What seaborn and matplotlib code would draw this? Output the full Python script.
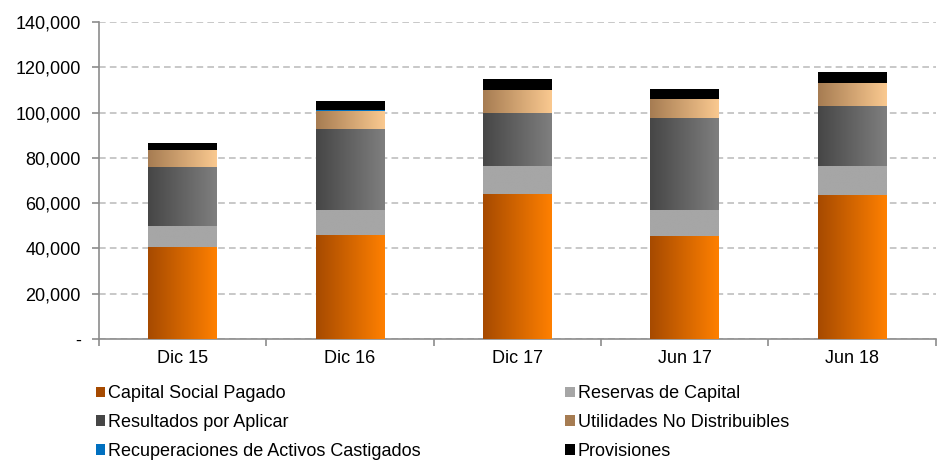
import numpy as np
import pandas as pd
import matplotlib
matplotlib.use("Agg")
import matplotlib.pyplot as plt
import seaborn as sns
from matplotlib.colors import LinearSegmentedColormap
from matplotlib.patches import Patch
from matplotlib.ticker import FuncFormatter

# data (approximate)
periods = ["Dic 15", "Dic 16", "Dic 17", "Jun 17", "Jun 18"]
capital_social = [40600, 45900, 64000, 45600, 63600]
reservas = [9300, 11100, 12400, 11400, 12800]
resultados = [26200, 35800, 23400, 40600, 26500]
utilidades = [7200, 7800, 10200, 8400, 10200]
recuperaciones = [0, 500, 0, 0, 0]
provisiones = [3300, 4000, 4800, 4400, 4800]

series_names = ["Capital Social Pagado", "Reservas de Capital", "Resultados por Aplicar",
                "Utilidades No Distribuibles", "Recuperaciones de Activos Castigados", "Provisiones"]
series_vals = [capital_social, reservas, resultados, utilidades, recuperaciones, provisiones]
# (left colour, right colour) of the horizontal gradient in each segment
series_cols = [("#A64A00", "#FF8000"), ("#A6A6A6", "#A6A6A6"), ("#464646", "#7F7F7F"),
               ("#A67C52", "#FAC990"), ("#0070C0", "#0070C0"), ("#000000", "#000000")]

df = pd.DataFrame(dict(zip(series_names, series_vals)), index=periods)
cum = df.cumsum(axis=1)

plt.rcParams["font.family"] = ["Liberation Sans", "DejaVu Sans"]
fig = plt.figure(figsize=(9.38, 4.61), dpi=100)
ax = fig.add_axes([0.1055, 0.265, 0.892, 0.687])

grad = np.linspace(0, 1, 256).reshape(1, -1)
# draw cumulative totals from the top series down, so lower series cover upper ones
for i in range(len(series_names) - 1, -1, -1):
    name = series_names[i]
    c0, c1 = series_cols[i]
    z = 3 + (len(series_names) - i) * 2
    n_before = len(ax.patches)
    sns.barplot(x=periods, y=cum[name].values, order=periods, color=c1, saturation=1,
                width=0.41, errorbar=None, ax=ax, zorder=z, linewidth=0)
    cmap = LinearSegmentedColormap.from_list(name, [c0, c1])
    for p in ax.patches[n_before:]:
        x0, y0 = p.get_x(), p.get_y()
        w, h = p.get_width(), p.get_height()
        if h <= 0:
            continue
        im = ax.imshow(grad, extent=[x0, x0 + w, y0, y0 + h], aspect="auto",
                       cmap=cmap, zorder=z + 0.5, interpolation="bilinear")
        im.set_clip_path(p)

ax.set_xlim(-0.5, len(periods) - 0.5)
ax.set_ylim(0, 140000)
ax.set_yticks(np.arange(0, 140001, 20000))
ax.yaxis.set_major_formatter(FuncFormatter(lambda v, _: "-" if v == 0 else f"{int(v):,}"))
ax.yaxis.grid(True, linestyle=(0, (4, 2.5)), color="#BFBFBF", linewidth=1.2, zorder=0)
ax.set_axisbelow(True)
ax.set_xlabel("")
ax.set_ylabel("")

for s in ["top", "right"]:
    ax.spines[s].set_visible(False)
for s in ["left", "bottom"]:
    ax.spines[s].set_color("#8C8C8C")
    ax.spines[s].set_linewidth(1.2)

ax.set_xticks(np.arange(-0.5, len(periods)), minor=True)
ax.tick_params(axis="x", which="major", length=0, labelsize=13, pad=8)
ax.tick_params(axis="x", which="minor", length=5, color="#8C8C8C", width=1.2)
ax.tick_params(axis="y", length=5, color="#8C8C8C", width=1.2, labelsize=13, pad=8)

handles = [Patch(facecolor=c[1] if c[0] == c[1] else c[0], label=n)
           for n, c in zip(series_names, series_cols)]
order = [0, 2, 4, 1, 3, 5]
fig.legend([handles[k] for k in order], [series_names[k] for k in order],
           ncol=2, loc="lower left", bbox_to_anchor=(0.0845, -0.032), frameon=False,
           fontsize=13, handlelength=0.55, handleheight=0.55, handletextpad=0.15,
           columnspacing=8.0, labelspacing=0.64)

fig.savefig("out.png", dpi=100)
